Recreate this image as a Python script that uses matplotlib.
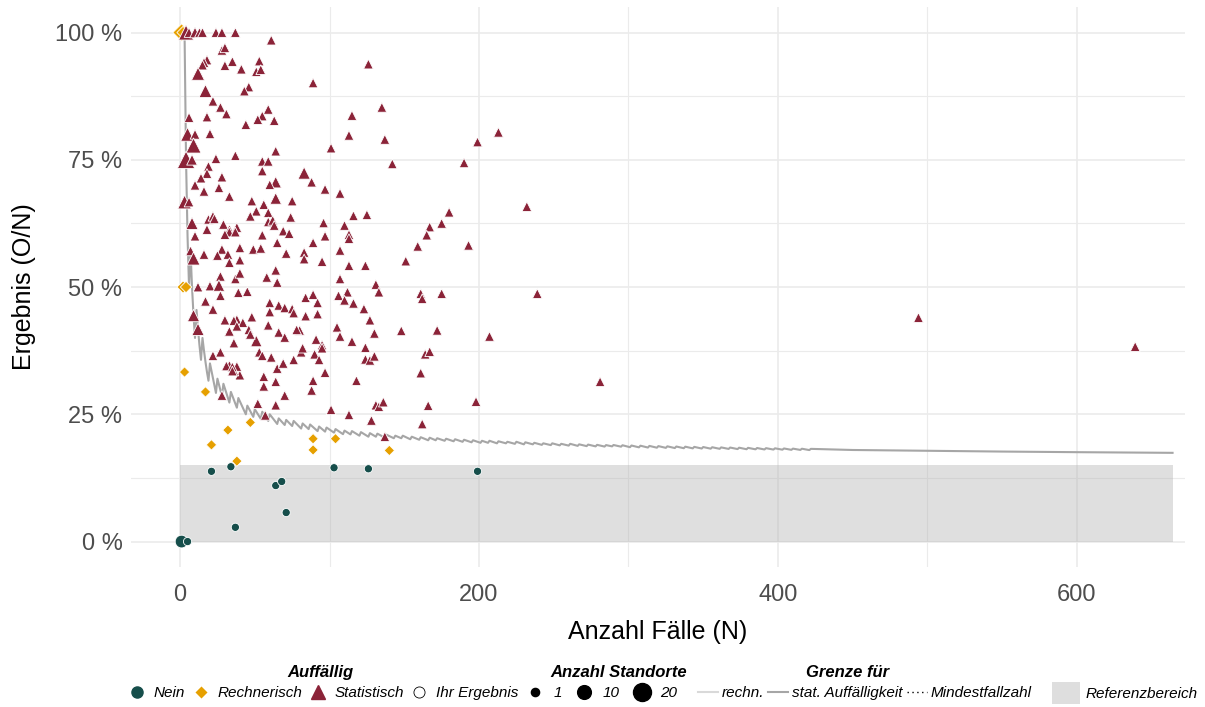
import matplotlib.pyplot as plt
from matplotlib.lines import Line2D
from matplotlib.patches import Patch, Rectangle
import matplotlib.ticker as ticker
import numpy as np

plt.rcParams["font.family"] = ["Liberation Sans", "DejaVu Sans"]

# Farben
C_NEIN = "#164e4b"
C_RECHN = "#e6a000"
C_STAT = "#8b2338"
C_GRENZE = "#a6a6a6"
C_RECHN_LINE = "#d9d9d9"

# Referenzbereich (0 .. 15 %)
ref_upper = 15
ref_n_max = 664

# Grenze stat. Auffälligkeit (Sägezahn)
grenze_n = [1, 2, 3, 4, 5, 6, 7, 8, 9, 10, 11, 12, 13, 14, 15, 16, 17, 18, 19, 20,
            24, 25, 28, 29, 33, 34, 38, 39, 44, 45, 49, 50, 54, 55, 59, 60, 65, 66,
            70, 71, 75, 76, 81, 82, 86, 87, 92, 93, 97, 98, 103, 104, 109, 110,
            114, 115, 120, 121, 126, 127, 131, 132, 137, 138, 143, 144, 148, 149,
            154, 155, 160, 161, 166, 167, 171, 172, 177, 178, 183, 184, 189, 190,
            195, 196, 201, 202, 206, 207, 212, 213, 218, 219, 224, 225, 230, 231,
            236, 237, 242, 243, 248, 249, 254, 255, 260, 261, 266, 267, 272, 273,
            278, 279, 284, 285, 289, 290, 295, 296,
            301, 302, 307, 308, 313, 314, 319, 320, 325, 326, 331, 332, 337, 338,
            343, 344, 349, 350, 355, 356, 361, 362, 367, 368, 373, 374, 379, 380,
            385, 386, 391, 392, 397, 398, 403, 404, 409, 410, 415, 416, 421, 422,
            450, 500, 550, 600, 664]
grenze_pct = [100, 100, 100, 75, 60, 50, 57.1, 50, 44.4, 40, 45.5, 41.7, 38.5, 35.7,
              40, 37.5, 35.3, 33.3, 31.6, 35, 29.2, 32, 28.6, 31.0, 27.3, 29.4, 26.3,
              28.2, 25, 26.7, 24.5, 26, 24.1, 25.5, 23.7, 25, 23.1, 24.2, 22.9, 23.9,
              22.7, 23.7, 22.2, 23.2, 22.1, 23.0, 21.7, 22.6, 21.6, 22.4, 21.4, 22.1,
              21.1, 21.8, 21.05, 21.7, 20.8, 21.5, 20.6, 21.3, 20.6, 21.2, 20.4, 21.0,
              20.3, 20.8, 20.3, 20.8,
              20.1, 20.6, 20.0, 20.5, 19.9, 20.4, 19.9, 20.3, 19.8, 20.2, 19.7, 20.1,
              19.6, 20.0, 19.5, 19.9, 19.4, 19.8, 19.4, 19.8, 19.3, 19.7, 19.3, 19.6,
              19.2, 19.6, 19.1, 19.5, 19.1, 19.4, 19.0, 19.3, 18.95, 19.3, 18.9, 19.2,
              18.85, 19.2, 18.8, 19.1, 18.75, 19.05, 18.7, 19.0, 18.66, 18.95, 18.7,
              18.97, 18.64, 18.92,
              18.54, 18.87, 18.51, 18.83, 18.47, 18.79, 18.44, 18.75, 18.41, 18.71,
              18.37, 18.67, 18.34, 18.64, 18.31, 18.60, 18.28, 18.57, 18.25, 18.53,
              18.22, 18.50, 18.20, 18.47, 18.17, 18.44, 18.14, 18.41, 18.12, 18.38,
              18.09, 18.35, 18.07, 18.32, 18.05, 18.29, 18.02, 18.26, 18.00, 18.24,
              17.97, 18.21,
              17.99, 17.83, 17.68, 17.56, 17.43]

# (N, Ergebnis %, Anzahl Standorte)
nein_points = [(1, 0, 8), (5, 0, 1), (21, 13.8, 1), (34, 14.7, 1), (64, 11.0, 1),
               (68, 11.8, 1), (37, 2.8, 1), (71, 5.7, 1), (103, 14.5, 1),
               (126, 14.3, 1), (199, 13.8, 1)]

rechn_points = [(1, 100, 10), (2, 100, 3), (2, 50, 3), (4, 50, 2), (3, 33.3, 1),
                (17, 29.4, 1), (21, 19.0, 1), (32, 21.9, 1), (38, 15.8, 1),
                (47, 23.4, 1), (89, 20.2, 1), (89, 18.0, 1), (104, 20.2, 1),
                (140, 17.9, 1)]

stat_points = [
    (4, 100, 8), (6, 100, 1), (10, 100, 2), (13, 100, 1), (15, 100, 1), (24, 100, 1),
    (28, 100, 1), (37, 100, 1),
    (61, 98.5, 1), (28, 96.5, 1), (30, 97, 1), (35, 94.3, 1), (53, 94.4, 1),
    (18, 94.6, 1), (16, 94.1, 1), (15, 93.6, 1), (30, 93.5, 1), (41, 92.8, 1),
    (51, 92.3, 1), (54, 92.7, 1), (12, 91.9, 5), (89, 90.1, 1), (17, 88.5, 5),
    (22, 86.5, 1), (27, 85.3, 1), (31, 84, 1), (46, 89.3, 1), (43, 88.5, 1),
    (59, 84.9, 1), (55, 83.6, 1), (52, 82.9, 1), (63, 82.7, 1), (44, 81.9, 1),
    (6, 83.3, 1), (18, 83.4, 1), (5, 80, 6), (10, 80, 1), (20, 80.1, 1),
    (9, 77.8, 8), (101, 77.3, 1), (4, 75, 12), (8, 75, 2), (24, 75.2, 1),
    (37, 75.8, 1), (64, 76.7, 1), (19, 73.7, 1), (55, 74.7, 1), (59, 74.7, 1),
    (83, 72.4, 4), (18, 72.3, 1), (14, 71.4, 1), (28, 71.6, 1), (55, 72.8, 1),
    (88, 70.6, 1), (64, 70.6, 3), (60, 70.1, 1), (10, 70, 1), (26, 69.5, 1),
    (16, 68.8, 1), (97, 69.2, 1), (107, 68.4, 1), (33, 67.8, 1), (3, 66.7, 6),
    (126, 93.8, 1), (115, 83.7, 1), (135, 85.3, 1), (113, 79.8, 1), (137, 79.0, 1),
    (199, 78.5, 1), (213, 80.4, 1), (190, 74.4, 1), (142, 74.2, 1),
    (48, 66.9, 1), (56, 66.2, 1), (64, 67.4, 3), (75, 66.9, 1), (51, 64.9, 1),
    (59, 64.6, 1), (47, 63.9, 1), (74, 63.7, 1), (116, 64.0, 1), (125, 64.2, 1),
    (180, 64.7, 1), (232, 65.8, 1), (59, 62.8, 1), (62, 63.1, 1), (63, 62.1, 1),
    (96, 62.6, 1), (110, 62.1, 1), (167, 61.8, 1), (175, 62.5, 1), (55, 60.2, 1),
    (69, 61.0, 1), (73, 60.5, 1), (97, 60.0, 1), (113, 60.3, 1), (113, 59.5, 1),
    (165, 60.2, 1), (49, 57.4, 1), (54, 57.6, 1), (65, 58.7, 1), (89, 58.7, 1),
    (71, 56.6, 1), (83, 56.8, 1), (83, 55.5, 1), (95, 55.0, 1), (107, 57.2, 1),
    (159, 58.0, 1), (193, 58.2, 1), (151, 55.1, 1), (113, 54.2, 1), (124, 54.2, 1),
    (64, 53.3, 1), (58, 51.9, 1), (65, 50.9, 1), (107, 51.6, 1), (131, 50.5, 1),
    (133, 49.0, 1), (161, 48.7, 1), (162, 47.7, 1), (175, 48.7, 1), (239, 48.7, 1),
    (106, 48.3, 1), (112, 49.0, 1), (110, 47.4, 1), (116, 46.8, 1), (123, 45.7, 1),
    (127, 43.5, 1), (130, 40.9, 1), (148, 41.4, 1), (172, 41.5, 1), (207, 40.3, 1),
    (84, 47.9, 1), (89, 48.5, 1), (92, 46.9, 1), (60, 46.9, 1), (66, 46.4, 1),
    (70, 45.9, 1), (75, 45.7, 1), (76, 44.9, 1), (60, 45.1, 1), (84, 44.3, 1),
    (92, 44.7, 1), (48, 44.1, 1), (59, 42.5, 1), (80, 41.5, 1), (66, 41.1, 1),
    (70, 40.1, 1), (105, 42.1, 1), (107, 40.3, 1), (115, 39.3, 1), (91, 39.7, 1),
    (95, 38.6, 1), (95, 38.0, 1), (51, 39.4, 3), (124, 38.1, 1), (53, 37.2, 1),
    (55, 36.5, 1), (61, 36.2, 1), (65, 34.0, 1), (69, 35.0, 1), (76, 35.7, 1),
    (81, 37.2, 1), (82, 38.0, 1), (90, 36.8, 1), (93, 35.7, 1), (97, 33.2, 1),
    (124, 35.8, 1), (127, 35.6, 1), (130, 36.4, 1), (164, 36.8, 1), (167, 37.3, 1),
    (161, 33.1, 1), (56, 32.4, 1), (64, 31.4, 1), (89, 31.6, 1), (56, 30.5, 1),
    (88, 29.7, 1), (118, 31.6, 1), (70, 28.7, 1), (52, 27.1, 1), (64, 26.8, 1),
    (101, 25.9, 1), (113, 24.9, 1), (131, 26.8, 1), (133, 26.5, 1), (136, 27.4, 1),
    (166, 26.7, 1), (198, 27.5, 1), (128, 23.8, 1), (162, 23.1, 1),
    (494, 44.0, 1), (639, 38.3, 1), (281, 31.4, 1), (137, 20.6, 1), (57, 24.8, 1),
    (28, 28.7, 1), (40, 32.7, 1), (36, 33.5, 1), (38, 34.4, 1), (33, 34.6, 1),
    (31, 34.5, 1), (22, 36.5, 1), (27, 37.2, 1),
    (6, 66.7, 1), (8, 62.5, 4), (19, 63.3, 1), (22, 63.9, 1), (23, 63.4, 1),
    (18, 61.3, 1), (29, 62.3, 1), (33, 61.3, 1), (33, 60.8, 1), (38, 61.7, 1),
    (30, 60.3, 1), (37, 60.8, 1), (10, 60, 1), (7, 57.1, 1), (9, 55.6, 5),
    (16, 56.4, 1), (28, 57.4, 1), (25, 56.2, 1), (32, 56.4, 1), (33, 54.8, 1),
    (40, 57.7, 1), (40, 55.3, 1), (27, 52.1, 1), (37, 51.6, 1), (40, 52.7, 1),
    (12, 50, 1), (20, 50.2, 1), (26, 50.3, 3), (27, 48.3, 1), (39, 48.9, 1),
    (45, 49.1, 1), (17, 47.2, 1), (22, 45.6, 1), (9, 44.4, 4), (12, 41.7, 4),
    (30, 43.5, 1), (33, 41.3, 1), (38, 43.6, 1), (42, 43, 1), (36, 39.0, 1),
    (46, 41.6, 1), (47, 40.7, 1), (35, 34.3, 1), (35, 33.5, 1), (36, 43.4, 1),
    (78, 41.6, 1), (38, 42.3, 1),
]


def size(n):
    return 28 + 7 * np.asarray(n)


fig = plt.figure(figsize=(12.05, 7.07), dpi=100)
ax = fig.add_axes([0.1085, 0.198, 0.8745, 0.792])

ax.set_xlim(-33, 672)
ax.set_ylim(-5, 105)

# Raster
ax.set_xticks([0, 200, 400, 600])
ax.set_xticks([100, 300, 500], minor=True)
ax.set_yticks([0, 25, 50, 75, 100])
ax.set_yticks([12.5, 37.5, 62.5, 87.5], minor=True)
ax.yaxis.set_major_formatter(ticker.FuncFormatter(lambda v, _: f"{int(v)} %"))
ax.grid(True, which="major", color="#ebebeb", linewidth=1.2, zorder=0)
ax.grid(True, which="minor", color="#ebebeb", linewidth=0.8, zorder=0)
ax.set_axisbelow(True)
for spine in ax.spines.values():
    spine.set_visible(False)
ax.tick_params(which="both", length=0)
ax.tick_params(axis="x", labelsize=17, labelcolor="#4d4d4d", pad=12)
ax.tick_params(axis="y", labelsize=17, labelcolor="#4d4d4d", pad=6)

ax.set_xlabel("Anzahl Fälle (N)", fontsize=18, labelpad=10)
ax.set_ylabel("Ergebnis (O/N)", fontsize=18, labelpad=14)

# Referenzbereich
ax.add_patch(Rectangle((0, 0), ref_n_max, ref_upper, facecolor="#b0b0b0", alpha=0.4,
                       edgecolor="none", zorder=1))

# Grenze stat. Auffälligkeit
ax.plot(grenze_n, grenze_pct, color=C_GRENZE, linewidth=1.5, zorder=2)

for pts, marker, color, scale in [
    (nein_points, "o", C_NEIN, 1.0),
    (rechn_points, "D", C_RECHN, 0.8),
    (stat_points, "^", C_STAT, 1.4),
]:
    n, pct, k = zip(*pts)
    ax.scatter(n, pct, s=size(k) * scale, marker=marker, c=color,
               edgecolors="white", linewidths=0.6, zorder=3)

# Legenden (Titel separat, Einträge linksbündig)
row_y = 0.0198
title_y = 0.0495
leg_kw = dict(frameon=False, loc="center left", borderpad=0, borderaxespad=0,
              handletextpad=0.6, columnspacing=0.5, handlelength=1.0,
              prop={"style": "italic", "size": 11})
title_kw = dict(ha="center", va="center", fontsize=12, fontweight="bold",
                fontstyle="italic")

h1 = [Line2D([], [], marker="o", ls="", color=C_NEIN, markersize=8),
      Line2D([], [], marker="D", ls="", color=C_RECHN, markersize=7,
             markeredgecolor="white"),
      Line2D([], [], marker="^", ls="", color=C_STAT, markersize=10),
      Line2D([], [], marker="o", ls="", markerfacecolor="white",
             markeredgecolor="black", markersize=8, markeredgewidth=0.6)]
fig.legend(h1, ["Nein", "Rechnerisch", "Statistisch", "Ihr Ergebnis"], ncol=4,
           bbox_to_anchor=(0.1075, row_y), **leg_kw)
fig.text(0.2656, title_y, "Auffällig", **title_kw)

h2 = [Line2D([], [], marker="o", ls="", color="black", markersize=np.sqrt(size(n)))
      for n in (1, 10, 20)]
fig.legend(h2, ["1", "10", "20"], ncol=3, bbox_to_anchor=(0.4378, row_y),
           **dict(leg_kw, handletextpad=0.7, columnspacing=0.95))
fig.text(0.513, title_y, "Anzahl Standorte", **title_kw)

h3 = [Line2D([], [], color=C_RECHN_LINE, lw=1.5),
      Line2D([], [], color=C_GRENZE, lw=1.5),
      Line2D([], [], color="black", lw=1, ls=(0, (1, 2.5)))]
fig.legend(h3, ["rechn.", "stat. Auffälligkeit", "Mindestfallzahl"], ncol=3,
           bbox_to_anchor=(0.579, row_y),
           **dict(leg_kw, handlelength=1.3, handletextpad=0.25, columnspacing=0.3))
fig.text(0.703, title_y, "Grenze für", **title_kw)

fig.legend([Patch(facecolor="#dedede", edgecolor="none")], ["Referenzbereich"],
           bbox_to_anchor=(0.873, row_y),
           **dict(leg_kw, handlelength=1.83, handleheight=1.83, handletextpad=0.35))

fig.savefig("out.png", dpi=100)
